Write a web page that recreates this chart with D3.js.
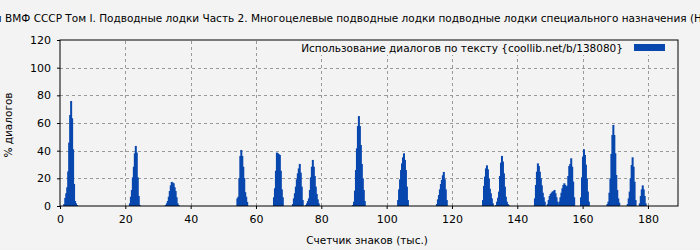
<!DOCTYPE html>
<meta charset="utf-8">
<script src="https://d3js.org/d3.v7.min.js"></script>
<style>
  body { margin: 0; background: #f3f3f3; }
  text { font-family: "DejaVu Sans", sans-serif; fill: #000; }
</style>
<div id="chart"></div>
<script>
// dialogue share (%) per text position, thousands of characters
var positions = [
  1.0,1.3,1.6,1.9,2.2,2.5,2.8,3.1,3.4,3.7,4.0,4.3,4.6,4.9,
  21.1,21.4,21.7,22.0,22.3,22.6,22.9,23.2,23.5,23.8,24.1,
  32.1,32.4,32.7,33.0,33.3,33.6,33.9,34.2,34.5,34.8,35.1,35.4,35.7,36.0,
  54.0,54.3,54.6,54.9,55.2,55.5,55.8,56.1,56.4,56.7,57.0,
  65.2,65.5,65.8,66.1,66.4,66.7,67.0,67.3,67.6,67.9,
  71.0,71.3,71.6,71.9,72.2,72.5,72.8,73.1,73.4,73.7,74.0,
  75.0,75.3,75.6,75.9,76.2,76.5,76.8,77.1,77.4,77.7,78.0,78.3,78.6,78.9,
  89.4,89.7,90.0,90.3,90.6,90.9,91.2,91.5,91.8,92.1,92.4,92.7,93.0,
  103.2,103.5,103.8,104.1,104.4,104.7,105.0,105.3,105.6,105.9,106.2,
  115.1,115.4,115.7,116.0,116.3,116.6,116.9,117.2,117.5,117.8,118.1,
  129.2,129.5,129.8,130.1,130.4,130.7,131.0,131.3,131.6,131.9,132.2,
  133.2,133.5,133.8,134.1,134.4,134.7,135.0,135.3,135.6,135.9,136.2,136.5,136.8,137.1,
  145.1,145.4,145.7,146.0,146.3,146.6,146.9,147.2,147.5,147.8,148.1,
  149.0,149.3,149.6,149.9,150.2,150.5,150.8,151.1,151.4,151.7,152.0,152.3,
  152.6,152.9,153.2,153.5,153.8,154.1,154.4,154.7,155.0,155.3,155.6,155.9,156.2,156.5,156.8,157.1,
  159.2,159.5,159.8,160.1,160.4,160.7,161.0,161.3,161.6,
  167.3,167.6,167.9,168.2,168.5,168.8,169.1,169.4,169.7,170.0,170.3,170.6,170.9,
  173.5,173.8,174.1,174.4,174.7,175.0,175.3,175.6,175.9,
  177.2,177.5,177.8,178.1,178.4,178.7,179.0
];
var shares = [
  1.4,5.8,9.2,13.5,25,45.8,65.8,75.9,63.4,41,15.9,3.6,1.9,0.7,
  1.9,6.7,11.6,20.7,28.4,38.1,43.4,38.6,20.7,7.2,0.7,
  0.7,1.9,3.6,6.7,10.8,14.9,17.4,16.9,16.4,13.5,10.8,6.3,1.9,0.7,
  5.5,6.7,20.2,36.2,40.5,36.2,28.4,20.2,10,6.7,2.9,
  6.3,12.8,25.5,38.6,38.1,37.4,36.9,25.5,12,6.3,
  1.4,5.5,9.2,14,19.3,23.6,27.2,30.4,24.1,14,4.3,
  0.7,1.9,3.6,5.5,11.6,20.7,28.4,33.3,28.4,21.7,14,8.7,4.8,1.9,
  0.7,3.1,11.1,26,41.7,57.8,65,57.8,44.1,30.4,20,11.6,3.6,
  4.3,12,19.3,26,30.8,35.2,38.1,33.3,26,14,4.3,
  1.4,4.8,7.9,12,15.9,18.8,22.2,24.6,19.3,12,4.3,
  4.3,14.5,21.2,27.2,29.4,26.5,20,12.5,9.2,5.5,1.9,
  0.7,3.1,6,10.4,21.7,31.3,36.2,32.1,23.6,14,6.7,3.1,1.4,0.5,
  5.5,15.2,24.8,30.8,28.9,24.8,20,14.9,9.6,6.3,3.1,
  1.4,4.3,7.2,8.7,9.6,10.4,10.8,11.6,9.2,6.3,3.1,1.2,
  3.1,6.3,9.6,12.8,15.2,16.4,15.2,14,14.5,21.7,28.9,30.4,34.5,28.4,17.6,6.3,
  6.3,20.7,35.7,41,36.9,29.9,20,10.4,3.1,
  1.4,3.1,9.6,20,37.6,51.3,58.6,51.3,38.1,22.4,11.6,5.5,2.4,
  1.4,5.5,10.4,20,29.6,35.2,28.4,17.6,4.3,
  1.9,7.2,12,14.9,12,7.2,1.9
];
var xTicks = [0,20,40,60,80,100,120,140,160,180];
var yTicks = [0,20,40,60,80,100,120];

var title = "Корабли ВМФ СССР Том I. Подводные лодки Часть 2. Многоцелевые подводные лодки подводные лодки специального назначения (Н";
var legendLabel = "Использование диалогов по тексту {coollib.net/b/138080}";
var xLabel = "Счетчик знаков (тыс.)";
var yLabel = "% диалогов";

var width = 700, height = 250;
var margin = {top: 40, right: 22, bottom: 44, left: 60};
var barColor = "#0847ae";
var fs = "10.5px";

var svg = d3.select("#chart").append("svg")
    .attr("width", width)
    .attr("height", height);

svg.append("rect").attr("width", width).attr("height", height).attr("fill", "#f3f3f3");

var x = d3.scaleLinear().domain([0, 189.2]).range([margin.left, width - margin.right]);
var y = d3.scaleLinear().domain([0, 120]).range([height - margin.bottom, margin.top]);

// grid
var grid = svg.append("g").attr("stroke", "#999").attr("stroke-dasharray", "3,3");
grid.selectAll(".gx").data(xTicks.slice(1))
  .enter().append("line")
    .attr("x1", function(d) { return Math.round(x(d)) + 0.5; })
    .attr("x2", function(d) { return Math.round(x(d)) + 0.5; })
    .attr("y1", y(0)).attr("y2", y(120));
grid.selectAll(".gy").data(yTicks.slice(1, -1))
  .enter().append("line")
    .attr("y1", function(d) { return Math.round(y(d)) + 0.5; })
    .attr("y2", function(d) { return Math.round(y(d)) + 0.5; })
    .attr("x1", x(0)).attr("x2", x(189.2));

// legend (covers grid behind it)
svg.append("rect")
    .attr("x", 298).attr("y", 41).attr("width", 378).attr("height", 14)
    .attr("fill", "#f3f3f3");
svg.append("text")
    .attr("x", 623).attr("y", 51.5)
    .attr("text-anchor", "end")
    .style("font-size", fs)
    .text(legendLabel);
svg.append("rect")
    .attr("x", 634).attr("y", 44).attr("width", 31).attr("height", 7)
    .attr("fill", barColor);

// bars
var bw = x(0.31) - x(0) + 1;
svg.append("g").selectAll("rect")
  .data(positions)
  .enter().append("rect")
    .attr("x", function(d) { return x(d); })
    .attr("y", function(d, i) { return y(shares[i]); })
    .attr("width", bw)
    .attr("height", function(d, i) { return y(0) - y(shares[i]); })
    .attr("fill", barColor);

// axes
var xAxis = svg.append("g")
    .attr("transform", "translate(0," + y(0) + ")")
    .call(d3.axisBottom(x).tickValues(xTicks).tickSize(3).tickSizeOuter(0));
var yAxis = svg.append("g")
    .attr("transform", "translate(" + x(0) + ",0)")
    .call(d3.axisLeft(y).tickValues(yTicks).tickSize(3).tickSizeOuter(0));
[xAxis, yAxis].forEach(function(a) {
  a.select(".domain").remove();
  a.selectAll("text").style("font-size", "11px").style("font-family", "DejaVu Sans").attr("fill", "#000");
  a.selectAll("line").attr("stroke", "#000");
});
xAxis.selectAll("text").attr("dy", "0.71em").attr("y", 9);
yAxis.selectAll("text").attr("x", -9);

// frame
svg.append("rect")
    .attr("x", x(0)).attr("y", y(120))
    .attr("width", x(189.2) - x(0)).attr("height", y(0) - y(120))
    .attr("fill", "none").attr("stroke", "#000").attr("stroke-width", 1);

// labels
svg.append("text")
    .attr("x", 367).attr("y", 244)
    .attr("text-anchor", "middle")
    .style("font-size", fs)
    .text(xLabel);
svg.append("text")
    .attr("transform", "translate(12," + 125 + ") rotate(-90)")
    .attr("text-anchor", "middle")
    .style("font-size", fs)
    .text(yLabel);

var t = svg.append("text")
    .attr("y", 22)
    .style("font-size", fs)
    .text(title);
// place so the visible part lines up: "ВМФ" starts near x=5
function textW(s) {
  var n = svg.append("text").style("font-size", fs).text(s);
  var w = n.node().getComputedTextLength();
  n.remove();
  return w;
}
var leadW = textW("Корабли ВМФ") - textW("ВМФ");
t.attr("x", 5 - leadW);
</script>
